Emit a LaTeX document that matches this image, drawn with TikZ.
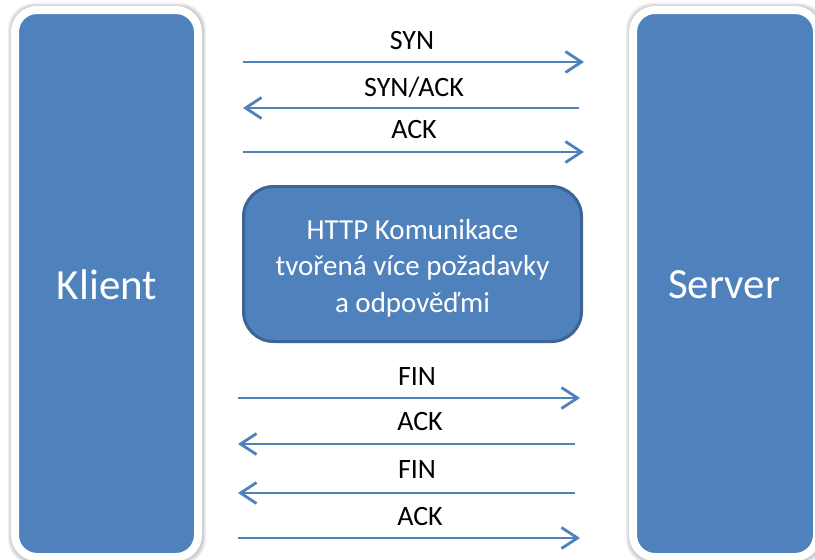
\documentclass[tikz,border=0pt]{standalone}
\usepackage{fontspec}
\setmainfont{Carlito}
\usetikzlibrary{arrows.meta}
\definecolor{ofblue}{HTML}{4F81BD}
\definecolor{ofdark}{HTML}{3A6595}
\tikzset{
  side/.style={draw=white, line width=8pt, fill=ofblue, rounded corners=22pt,
    text=white, font=\fontsize{43}{50}\selectfont, inner sep=0pt},
  glow/.style={fill=black, fill opacity=0.07, rounded corners=26pt},
  mid/.style={draw=ofdark, line width=3pt, fill=ofblue, rounded corners=30pt,
    text=white, align=center, font=\fontsize{29}{36.5}\selectfont, inner sep=0pt},
  msg/.style={draw=ofblue, line width=2.8pt, -{Straight Barb[length=16pt,width=21pt,line width=2.8pt]}},
  lbl/.style={font=\fontsize{28}{30}\selectfont, text=black, inner sep=0pt}
}
\begin{document}
\begin{tikzpicture}[x=1pt,y=-1pt]
\useasboundingbox (0,0) rectangle (815,560);
\fill[white] (0,0) rectangle (815,560);
% soft shadows of side boxes
\foreach \d in {0,1.2,2.4}{
  \fill[glow] (10.5-\d,5.5-\d) rectangle (203.5+\d,562.5+\d);
  \fill[glow] (628.5-\d,5.5-\d) rectangle (822.5+\d,562.5+\d);
}
% side boxes
\node[side, minimum width=183pt, minimum height=547pt] (klient) at (106.5,283.5) {};
\node[side, minimum width=184pt, minimum height=547pt] (server) at (725,283.5) {};
\node[text=white, font=\fontsize{43}{50}\selectfont] (kt) at (107,285) {Klient};
\node[text=white, font=\fontsize{43}{50}\selectfont] (st) at (724,285) {Server};
% middle box
\node[mid, minimum width=338pt, minimum height=155pt] (http) at (412.5,264) {};
\node[text=white, align=center, font=\fontsize{29}{36.5}\selectfont, inner sep=0pt] (httpt) at (412.5,268)
  {HTTP Komunikace\\tvořená více požadavky\\a odpověďmi};
% coordinates
\coordinate (a1) at (243,62);  \coordinate (b1) at (584,62);
\coordinate (a2) at (243,108); \coordinate (b2) at (579,108);
\coordinate (a3) at (243,152); \coordinate (b3) at (584,152);
\coordinate (a4) at (238,398); \coordinate (b4) at (580,398);
\coordinate (a5) at (238,444); \coordinate (b5) at (575,444);
\coordinate (a6) at (238,493); \coordinate (b6) at (575,493);
\coordinate (a7) at (238,538); \coordinate (b7) at (580,538);
\draw[msg] (a1) -- (b1);
\draw[msg] (b2) -- (a2);
\draw[msg] (a3) -- (b3);
\draw[msg] (a4) -- (b4);
\draw[msg] (b5) -- (a5);
\draw[msg] (b6) -- (a6);
\draw[msg] (a7) -- (b7);
\node[lbl] (l1) at (412,41) {SYN};
\node[lbl] (l2) at (414,87) {SYN/ACK};
\node[lbl] (l3) at (414,130) {ACK};
\node[lbl] (l4) at (417,377) {FIN};
\node[lbl] (l5) at (420,422) {ACK};
\node[lbl] (l6) at (417,470) {FIN};
\node[lbl] (l7) at (420,517) {ACK};
\end{tikzpicture}
\end{document}
